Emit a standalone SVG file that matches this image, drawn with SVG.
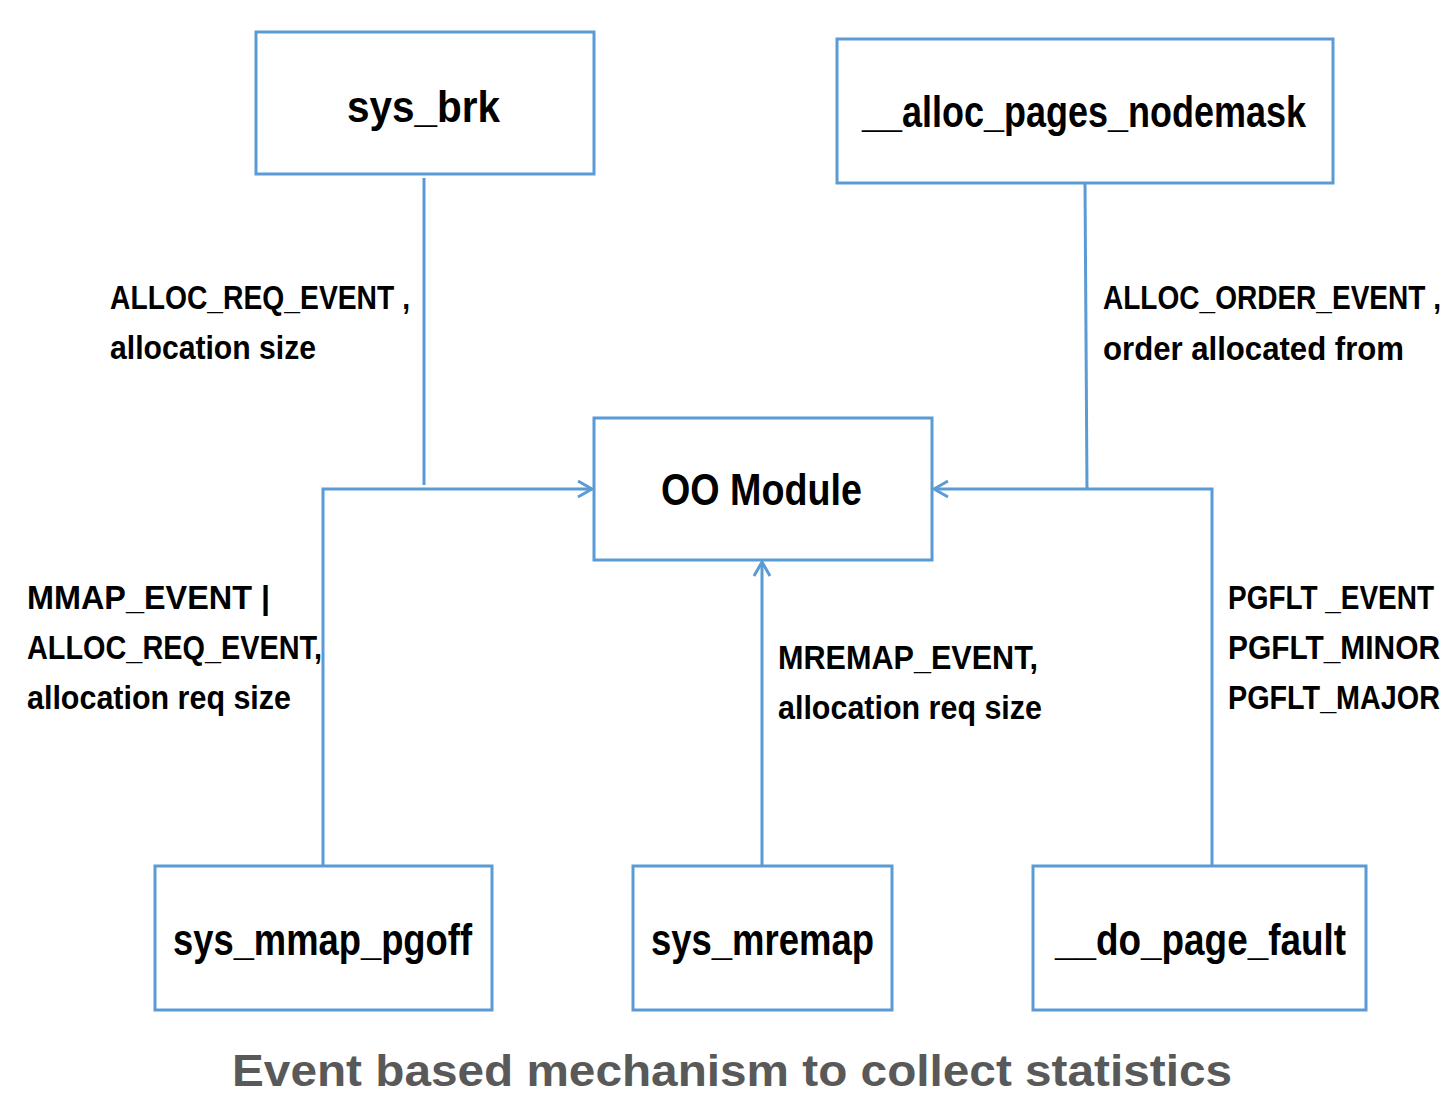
<svg xmlns="http://www.w3.org/2000/svg" width="1448" height="1093" viewBox="0 0 1448 1093">
<style>
.box{fill:#fff;stroke:#5B9BD5;stroke-width:3}
.ln{fill:none;stroke:#5B9BD5;stroke-width:3}
.nt{font-family:"Liberation Sans",Arial,sans-serif;font-weight:bold;font-size:44px;fill:#000}
.lb{font-family:"Liberation Sans",Arial,sans-serif;font-weight:bold;font-size:34px;fill:#000}
.tt{font-family:"Liberation Sans",Arial,sans-serif;font-weight:bold;font-size:44px;fill:#595959}
</style>
<defs>
<marker id="arr" viewBox="0 0 20 20" refX="18" refY="10" markerWidth="20" markerHeight="20" markerUnits="userSpaceOnUse" orient="auto">
<path d="M4 2 L18 10 L4 18" fill="none" stroke="#5B9BD5" stroke-width="3"/>
</marker>
</defs>
<rect width="1448" height="1093" fill="#fff"/>
<g id="connectors">
<line class="ln" x1="424" y1="178" x2="424" y2="485"/>
<polyline class="ln" points="323,866 323,489 592,489" marker-end="url(#arr)"/>
<line class="ln" x1="1085" y1="183" x2="1087" y2="489"/>
<polyline class="ln" points="1212,866 1212,489 934,489" marker-end="url(#arr)"/>
<line class="ln" x1="762" y1="866" x2="762" y2="562" marker-end="url(#arr)"/>
</g>
<g id="sys_brk">
<rect class="box" x="256" y="32" width="338" height="142"/>
<text class="nt" x="347" y="122" textLength="153" lengthAdjust="spacingAndGlyphs">sys_brk</text>
</g>
<g id="alloc_pages_nodemask">
<rect class="box" x="837" y="39" width="496" height="144"/>
<text class="nt" x="862" y="127" textLength="444" lengthAdjust="spacingAndGlyphs">__alloc_pages_nodemask</text>
</g>
<g id="oo_module">
<rect class="box" x="594" y="418" width="338" height="142"/>
<text class="nt" x="661" y="505" textLength="201" lengthAdjust="spacingAndGlyphs">OO Module</text>
</g>
<g id="sys_mmap_pgoff">
<rect class="box" x="155" y="866" width="337" height="144"/>
<text class="nt" x="173" y="955" textLength="299" lengthAdjust="spacingAndGlyphs">sys_mmap_pgoff</text>
</g>
<g id="sys_mremap">
<rect class="box" x="633" y="866" width="259" height="144"/>
<text class="nt" x="651" y="955" textLength="223" lengthAdjust="spacingAndGlyphs">sys_mremap</text>
</g>
<g id="do_page_fault">
<rect class="box" x="1033" y="866" width="333" height="144"/>
<text class="nt" x="1055" y="955" textLength="291" lengthAdjust="spacingAndGlyphs">__do_page_fault</text>
</g>
<g id="labels">
<text class="lb" x="110" y="309" textLength="300" lengthAdjust="spacingAndGlyphs">ALLOC_REQ_EVENT ,</text>
<text class="lb" x="110" y="359" textLength="206" lengthAdjust="spacingAndGlyphs">allocation size</text>
<text class="lb" x="1103" y="309" textLength="338" lengthAdjust="spacingAndGlyphs">ALLOC_ORDER_EVENT ,</text>
<text class="lb" x="1103" y="360" textLength="301" lengthAdjust="spacingAndGlyphs">order allocated from</text>
<text class="lb" x="27" y="609" textLength="243" lengthAdjust="spacingAndGlyphs">MMAP_EVENT  |</text>
<text class="lb" x="27" y="659" textLength="295" lengthAdjust="spacingAndGlyphs">ALLOC_REQ_EVENT,</text>
<text class="lb" x="27" y="709" textLength="264" lengthAdjust="spacingAndGlyphs">allocation req size</text>
<text class="lb" x="778" y="669" textLength="260" lengthAdjust="spacingAndGlyphs">MREMAP_EVENT,</text>
<text class="lb" x="778" y="719" textLength="264" lengthAdjust="spacingAndGlyphs">allocation req size</text>
<text class="lb" x="1228" y="609" textLength="206" lengthAdjust="spacingAndGlyphs">PGFLT _EVENT</text>
<text class="lb" x="1228" y="659" textLength="212" lengthAdjust="spacingAndGlyphs">PGFLT_MINOR</text>
<text class="lb" x="1228" y="709" textLength="212" lengthAdjust="spacingAndGlyphs">PGFLT_MAJOR</text>
</g>
<text class="tt" x="232" y="1086" textLength="1000" lengthAdjust="spacingAndGlyphs">Event based mechanism to collect statistics</text>
</svg>
